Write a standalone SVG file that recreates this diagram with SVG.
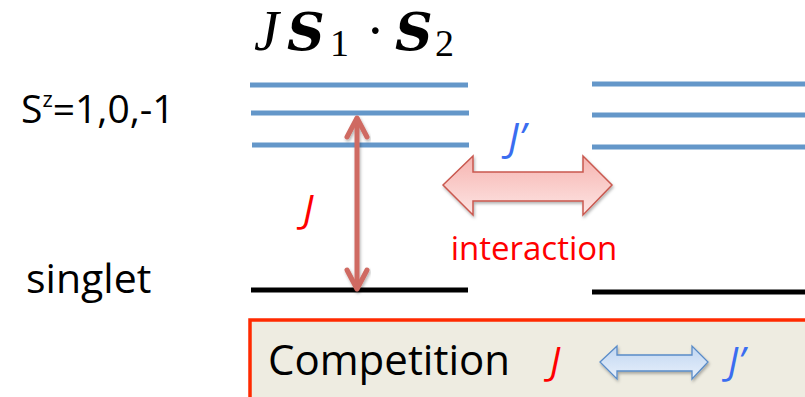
<svg xmlns="http://www.w3.org/2000/svg" width="805" height="397" viewBox="0 0 805 397">
<style>
.lvl{stroke:#6497c9;stroke-width:5;}
.gnd{stroke:#000;stroke-width:5;}
.sans{font-family:"Open Sans","Noto Sans","Liberation Sans",sans-serif;}
.math{font-family:"Liberation Serif","DejaVu Serif",serif;fill:#000;}
.bs{font-family:"DejaVu Serif","Liberation Serif",serif;font-style:italic;font-weight:bold;}
</style>
<defs>
<linearGradient id="pink" x1="0" y1="0" x2="0" y2="1">
<stop offset="0" stop-color="#f6b4b0"/>
<stop offset="1" stop-color="#fde5e4"/>
</linearGradient>
<linearGradient id="blue" x1="0" y1="0" x2="0" y2="1">
<stop offset="0" stop-color="#c0d6f1"/>
<stop offset="1" stop-color="#e8f0fb"/>
</linearGradient>
<filter id="shadow" x="-20%" y="-20%" width="140%" height="160%">
<feDropShadow dx="1" dy="2" stdDeviation="1.5" flood-color="#000" flood-opacity="0.3"/>
</filter>
</defs>
<rect width="805" height="397" fill="#fff"/>
<g id="title" class="math">
<text x="254" y="50" font-size="56" font-style="italic">J</text>
<text x="287" y="50" font-size="52" class="bs">S</text>
<text x="330" y="56" font-size="38">1</text>
<text x="366" y="50" font-size="56">·</text>
<text x="395" y="50" font-size="52" class="bs">S</text>
<text x="435" y="56" font-size="38">2</text>
</g>
<g id="labels">
<text x="21" y="123" class="sans" font-size="39" fill="#000">S<tspan font-size="22" dy="-16">z</tspan><tspan dy="16">=1,0,-1</tspan></text>
<text x="26" y="293" class="sans" font-size="41" fill="#000">singlet</text>
</g>
<g id="left-levels">
<line class="lvl" x1="250" y1="85" x2="468" y2="85"/>
<line class="lvl" x1="251" y1="113" x2="469" y2="113"/>
<line class="lvl" x1="252" y1="145" x2="469" y2="145"/>
<line class="gnd" x1="251" y1="290" x2="468" y2="290"/>
</g>
<g id="right-levels">
<line class="lvl" x1="592" y1="84" x2="805" y2="84"/>
<line class="lvl" x1="592" y1="115" x2="805" y2="115"/>
<line class="lvl" x1="592" y1="147" x2="805" y2="147"/>
<line class="gnd" x1="592" y1="292" x2="805" y2="292"/>
</g>
<g id="connectors">
<g stroke="#cf6a62" stroke-width="5" fill="none" stroke-linecap="round" stroke-linejoin="round" filter="url(#shadow)">
<line x1="357" y1="119" x2="357" y2="287"/>
<polyline points="347,137 357,118 367,137"/>
<polyline points="347,270 357,289 367,270"/>
</g>
<path d="M443,185 L473,156 L473,172 L583,172 L583,156 L612,185 L583,215 L583,201 L473,201 L473,215 Z" fill="url(#pink)" stroke="#c9584f" stroke-width="1.5" filter="url(#shadow)"/>
</g>
<g id="edge-labels">
<text x="303" y="223" class="sans" font-size="39" font-style="italic" fill="#ff0000">J</text>
<text x="508" y="152" class="sans" font-size="40" font-style="italic" fill="#3a6df0">J’</text>
<text x="534" y="260" class="sans" font-size="33" fill="#ff0000" text-anchor="middle">interaction</text>
</g>
<g id="competition">
<rect x="250" y="320" width="560" height="80" fill="#eeece1" stroke="#ff2a00" stroke-width="3.5"/>
<text x="268" y="375" class="sans" font-size="42" fill="#000">Competition</text>
<text x="550" y="375" class="sans" font-size="38" font-style="italic" fill="#ff0000">J</text>
<path d="M600,362 L617,346 L617,355 L692,355 L692,346 L708,362 L692,379 L692,371 L617,371 L617,379 Z" fill="url(#blue)" stroke="#5a8cc8" stroke-width="1.3" filter="url(#shadow)"/>
<text x="728" y="375" class="sans" font-size="38" font-style="italic" fill="#3a6df0">J’</text>
</g>
</svg>
